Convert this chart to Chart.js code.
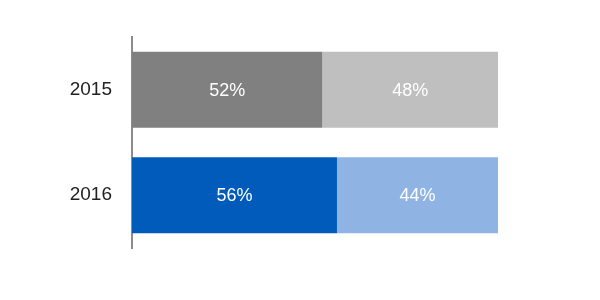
<!DOCTYPE html>
<html>
<head>
<meta charset="utf-8">
<script src="https://cdn.jsdelivr.net/npm/chart.js@4/dist/chart.umd.min.js"></script>
<style>
    html, body { margin: 0; padding: 0; background: #fff; }
    #wrap { width: 600px; height: 300px; }
</style>
</head>
<body>
<div id="wrap"><canvas id="chart"></canvas></div>
<script>
const years = ["2015", "2016"];
const firstShare = [52, 56];
const secondShare = [48, 44];

const firstColors = ["#808080", "#005bbb"];
const secondColors = ["#bfbfbf", "#8fb4e3"];

// draws the % text in the middle of each bar segment
const barLabels = {
    id: "barLabels",
    afterDatasetsDraw(chart) {
        const ctx = chart.ctx;
        ctx.save();
        ctx.font = "18px 'Liberation Sans', Arial, sans-serif";
        ctx.fillStyle = "#fff";
        ctx.textAlign = "center";
        ctx.textBaseline = "middle";
        chart.data.datasets.forEach((ds, di) => {
            chart.getDatasetMeta(di).data.forEach((bar, i) => {
                const p = bar.getProps(["x", "y", "base"], true);
                ctx.fillText(ds.data[i] + "%", (p.x + p.base) / 2, p.y + 1);
            });
        });
        ctx.restore();
    }
};

new Chart(document.getElementById("chart"), {
    type: "bar",
    data: {
        labels: years,
        datasets: [
            { data: firstShare, backgroundColor: firstColors },
            { data: secondShare, backgroundColor: secondColors }
        ]
    },
    options: {
        indexAxis: "y",
        responsive: true,
        maintainAspectRatio: false,
        animation: false,
        barPercentage: 0.72,
        categoryPercentage: 1,
        layout: { padding: { left: 0, right: 102, top: 37, bottom: 52 } },
        plugins: { legend: { display: false }, tooltip: { enabled: false } },
        scales: {
            x: { stacked: true, min: 0, max: 100, display: false },
            y: {
                stacked: true,
                afterFit: s => { s.width = 132; },
                grid: { display: false, drawTicks: false },
                border: { display: true, color: "#8c8c8c", width: 2 },
                ticks: {
                    padding: 20,
                    color: "#222",
                    font: { family: "'Liberation Sans', Arial, sans-serif", size: 19 }
                }
            }
        }
    },
    plugins: [barLabels]
});
</script>
</body>
</html>
